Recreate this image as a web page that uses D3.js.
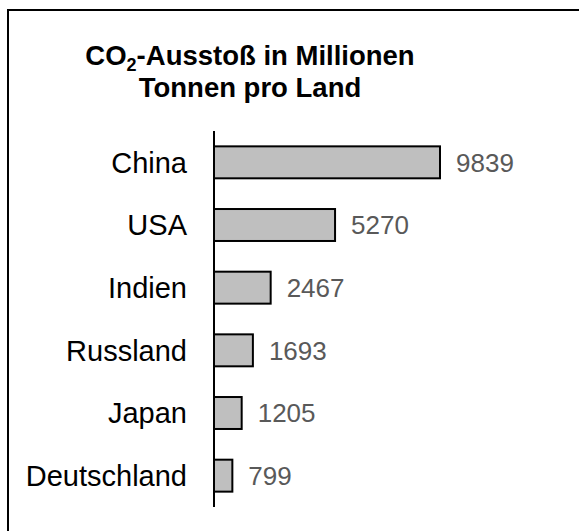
<!DOCTYPE html>
<html><head><meta charset="utf-8">
<script src="https://cdn.jsdelivr.net/npm/d3@7"></script>
<style>body{margin:0;background:#fff}svg{display:block}</style>
</head><body>
<script>
const categories = ["China","USA","Indien","Russland","Japan","Deutschland"];
const values = [9839,5270,2467,1693,1205,799];
const titleLines = ["CO₂-Ausstoß in Millionen","Tonnen pro Land"];

const W=579,H=531;
const svg=d3.select("body").append("svg").attr("width",W).attr("height",H);
svg.append("rect").attr("x",8).attr("y",10).attr("width",620).attr("height",600)
  .attr("fill","#fff").attr("stroke","#000").attr("stroke-width",2);

const x0=214;
const x=d3.scaleLinear().domain([0,9839]).range([x0,440]);
const y=d3.scaleBand().domain(categories).range([131,507]).paddingInner(0.49).paddingOuter(0.245);

// title
const t=svg.append("text").attr("text-anchor","middle").attr("font-family","Liberation Sans, Arial, sans-serif")
  .attr("font-weight","bold").attr("font-size",27.5).attr("fill","#000");
const l1=t.append("tspan").attr("x",250).attr("y",65);
l1.append("tspan").text("CO");
l1.append("tspan").attr("font-size",18).attr("dy",6).text("2");
l1.append("tspan").attr("dy",-6).text("-Ausstoß in Millionen");
t.append("tspan").attr("x",250).attr("y",97).text(titleLines[1]);

const data=categories.map((c,i)=>({c,v:values[i]}));
svg.selectAll("rect.bar").data(data).enter().append("rect").attr("class","bar")
  .attr("x",x(0)).attr("y",d=>y(d.c)).attr("width",d=>x(d.v)-x(0)).attr("height",y.bandwidth())
  .attr("fill","#bfbfbf").attr("stroke","#000").attr("stroke-width",2);

svg.selectAll("text.val").data(data).enter().append("text").attr("class","val")
  .attr("x",d=>x(d.v)+16).attr("y",d=>y(d.c)+y.bandwidth()/2).attr("dy","0.36em")
  .attr("font-family","Liberation Sans, Arial, sans-serif").attr("font-size",26).attr("fill","#595959")
  .text(d=>d.v);

const ax=svg.append("g").attr("transform",`translate(${x0},0)`).call(d3.axisLeft(y).tickSize(0).tickPadding(27));
ax.select(".domain").attr("stroke","#000").attr("stroke-width",2).attr("d","M0,131V507");
ax.selectAll("text").attr("font-family","Liberation Sans, Arial, sans-serif").attr("font-size",29).attr("fill","#000").attr("dy","0.36em");
</script>
</body></html>
